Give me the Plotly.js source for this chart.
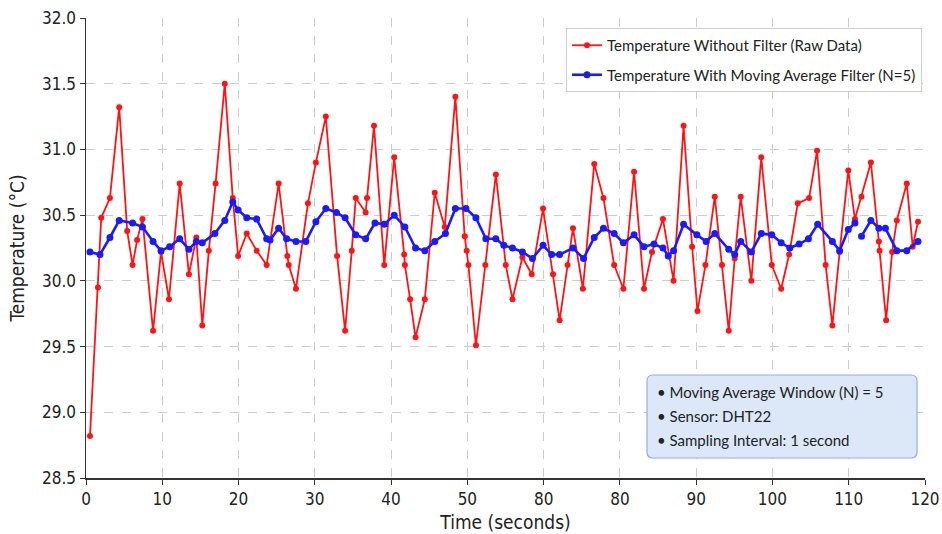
<!DOCTYPE html>
<html>
<head>
<meta charset="utf-8">
<script src="https://cdn.plot.ly/plotly-3.0.1.min.js"></script>
<style>
html,body{margin:0;padding:0;background:#fff;}
#chart{width:942px;height:534px;}
</style>
</head>
<body>
<div id="chart"></div>
<script>
// ---- data ----
const rawTime = [0.57,1.71,2.18,3.42,4.75,5.89,6.66,7.31,8.08,9.59,10.73,11.87,13.40,14.72,15.78,16.63,17.57,18.53,19.85,20.99,21.76,22.99,24.41,25.84,27.55,28.80,29.00,30.03,31.74,32.88,34.30,35.91,37.06,38.01,38.58,40.00,40.19,41.19,42.66,44.08,45.51,45.61,46.36,47.13,48.46,49.88,51.31,52.83,54.16,54.45,54.70,55.77,57.11,58.62,60.04,61.00,62.42,63.75,65.37,66.80,67.74,68.88,69.65,71.07,72.69,74.01,75.54,76.86,78.39,79.81,80.95,82.52,84.04,85.47,86.69,87.46,88.60,89.93,90.97,91.93,92.78,93.64,95.16,96.58,98.09,99.43,100.57,101.80,103.42,104.56,105.79,106.75,107.79,109.03,109.98,110.92,112.26,113.40,113.50,114.44,115.30,115.97,117.39,118.24,119.00];
const rawTemp = [28.82,29.95,30.48,30.63,31.32,30.38,30.12,30.31,30.47,29.62,30.22,29.86,30.74,30.05,30.33,29.66,30.23,30.74,31.50,30.63,30.19,30.36,30.23,30.12,30.74,30.19,30.12,29.94,30.59,30.90,31.25,30.19,29.62,30.23,30.63,30.52,30.63,31.18,30.12,30.94,30.20,30.12,29.86,29.57,29.86,30.67,30.41,31.40,30.34,30.23,30.12,29.51,30.12,30.81,30.12,29.86,30.18,30.05,30.55,30.05,29.70,30.12,30.40,29.94,30.89,30.63,30.12,29.94,30.83,29.94,30.22,30.47,30.00,31.18,30.26,29.77,30.12,30.64,30.12,29.62,30.17,30.64,30.00,30.94,30.12,29.94,30.20,30.59,30.63,30.99,30.12,29.66,30.22,30.84,30.47,30.64,30.90,30.30,30.23,29.70,30.22,30.46,30.74,30.26,30.45];

const maTime = [0.57,2.00,3.42,4.75,6.66,8.08,9.59,10.73,11.97,13.40,14.72,15.78,16.63,18.43,19.85,20.99,21.76,22.99,24.41,25.84,26.32,27.55,28.69,30.03,31.44,32.88,34.30,35.82,37.06,38.58,40.00,41.33,42.66,44.08,45.61,47.13,48.46,49.88,51.41,52.83,54.34,55.77,57.19,58.62,59.76,61.00,62.42,63.85,65.37,66.60,67.74,69.65,71.16,72.69,74.01,75.54,76.86,78.39,79.81,81.24,82.52,83.28,84.04,85.47,87.37,88.69,89.93,91.93,92.78,93.64,95.16,96.58,98.09,99.43,100.66,102.00,103.33,104.65,106.75,107.79,109.03,109.98,110.50,110.92,112.26,113.40,114.34,115.97,117.39,119.00];
const maTemp = [30.22,30.20,30.33,30.46,30.44,30.41,30.30,30.23,30.26,30.32,30.24,30.30,30.29,30.36,30.46,30.60,30.54,30.48,30.47,30.32,30.31,30.40,30.32,30.30,30.30,30.45,30.55,30.52,30.48,30.35,30.32,30.44,30.43,30.50,30.41,30.25,30.23,30.30,30.36,30.55,30.55,30.48,30.32,30.32,30.27,30.25,30.22,30.17,30.27,30.20,30.20,30.25,30.17,30.33,30.40,30.36,30.29,30.35,30.26,30.28,30.25,30.19,30.23,30.43,30.35,30.30,30.36,30.24,30.20,30.30,30.22,30.36,30.35,30.29,30.25,30.28,30.32,30.43,30.30,30.23,30.39,30.44,null,30.34,30.46,30.40,30.40,30.23,30.23,30.30];

const xTickLabels = ["0","10","20","30","40","50","80","80","90","100","110","120"];
const yTickValues = [28.5,29.0,29.5,30.0,30.5,31.0,31.5,32.0];

const rawName = "Temperature Without Filter (Raw Data)";
const maName = "Temperature With Moving Average Filter (N=5)";
const infoLines = ["• Moving Average Window (N) = 5", "• Sensor: DHT22", "• Sampling Interval: 1 second"];

// ---- layout helpers ----
const W = 942, H = 534;
const M = {l: 86, r: 17, t: 18, b: 56};
const PW = W - M.l - M.r, PH = H - M.t - M.b;
const px2x = p => (p - M.l) / PW;
const px2y = p => (H - M.b - p) / PH;

function roundedRect(x0, y0, x1, y1, r) {
  const X = px2x, Y = px2y;
  const rx = r / PW, ry = r / PH;
  const a = X(x0), b = X(x1), t = Y(y0), d = Y(y1);
  return `M ${a+rx},${t} L ${b-rx},${t} Q ${b},${t} ${b},${t-ry} L ${b},${d+ry} Q ${b},${d} ${b-rx},${d} L ${a+rx},${d} Q ${a},${d} ${a},${d+ry} L ${a},${t-ry} Q ${a},${t} ${a+rx},${t} Z`;
}

const tickFont = {family: "'Liberation Sans Narrow', 'DejaVu Sans Condensed', 'Arial Narrow', sans-serif", size: 17, color: "#222"};
const titleFont = {family: "'Liberation Sans Narrow', 'DejaVu Sans Condensed', 'Arial Narrow', sans-serif", size: 19, color: "#222"};
const labelFont = {family: "Lato, 'Open Sans', sans-serif", size: 15, color: "#222"};

const traces = [
  {
    x: rawTime, y: rawTemp, type: "scatter", mode: "lines+markers", name: rawName,
    legendgroup: "raw",
    line: {color: "#ff1414", width: 1.8},
    marker: {color: "#ff1414", size: 6}
  },
  {
    x: maTime, y: maTemp, type: "scatter", mode: "lines+markers", name: maName,
    legendgroup: "ma", connectgaps: false,
    line: {color: "#1a1aff", width: 2.6},
    marker: {color: "#1a1aff", size: 7}
  }
];

const annotations = infoLines.map((t, i) => ({
  xref: "paper", yref: "paper",
  x: px2x(655), y: px2y(392 + i * 24),
  xanchor: "left", yanchor: "middle",
  text: t, showarrow: false, font: labelFont
}));

const layout = {
  width: W, height: H,
  margin: M,
  paper_bgcolor: "#fff", plot_bgcolor: "#fff",
  showlegend: true,
  legend: {
    x: px2x(922), y: px2y(28), xanchor: "right", yanchor: "top",
    bgcolor: "#fff", bordercolor: "#cfcfcf", borderwidth: 1,
    font: labelFont, tracegroupgap: 7
  },
  xaxis: {
    range: [0, 120],
    tickmode: "array",
    tickvals: xTickLabels.map((_, i) => i * 120 / (xTickLabels.length - 1)),
    ticktext: xTickLabels,
    ticklabeloverflow: "allow",
    ticks: "outside", ticklen: 5, tickcolor: "#333",
    showline: true, linecolor: "#333", linewidth: 1.5,
    showgrid: true, gridcolor: "#cccccc", griddash: "dash", gridwidth: 1,
    zeroline: false,
    tickfont: tickFont,
    title: {text: "Time (seconds)", font: titleFont, standoff: 8}
  },
  yaxis: {
    range: [28.5, 32.0],
    tickmode: "array", tickvals: yTickValues,
    ticktext: yTickValues.map(v => v.toFixed(1)),
    ticks: "outside", ticklen: 5, tickcolor: "#333",
    showline: true, linecolor: "#333", linewidth: 1.5,
    showgrid: true, gridcolor: "#cccccc", griddash: "dash", gridwidth: 1,
    zeroline: false,
    tickfont: tickFont,
    title: {text: "Temperature (°C)", font: titleFont, standoff: 12}
  },
  shapes: [{
    type: "path", xref: "paper", yref: "paper",
    path: roundedRect(647, 375, 917, 458, 6),
    fillcolor: "#dce8f8", line: {color: "#8fb0e3", width: 1.2}, layer: "above"
  }],
  annotations: annotations
};

Plotly.newPlot("chart", traces, layout, {displayModeBar: false, staticPlot: true});
</script>
</body>
</html>
